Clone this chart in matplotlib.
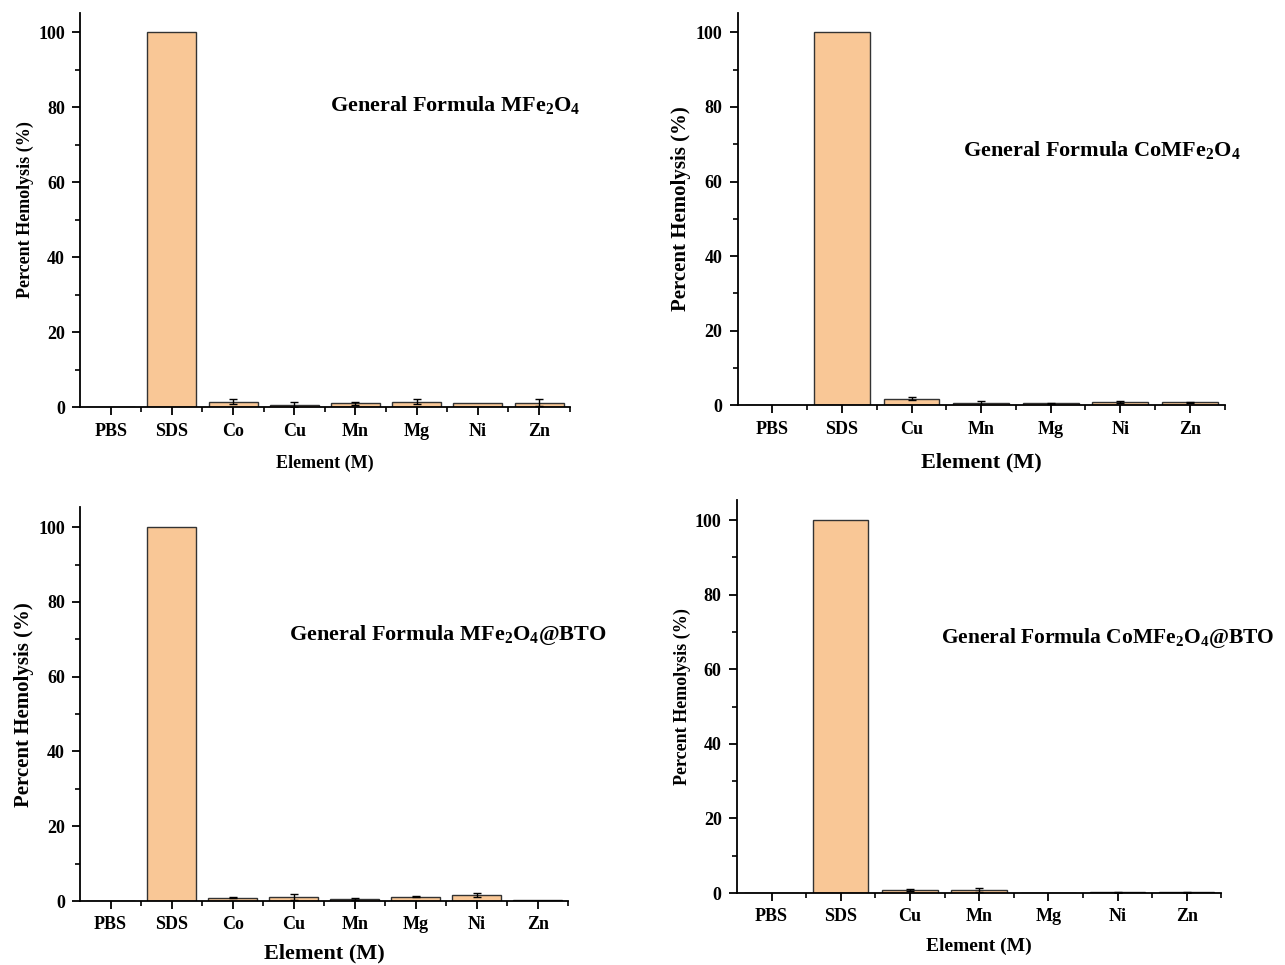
import matplotlib
matplotlib.use("Agg")
from matplotlib import pyplot as plt
from matplotlib.ticker import MultipleLocator, FixedLocator

plt.rcParams['font.family'] = 'Liberation Serif'
plt.rcParams['font.weight'] = 'bold'
plt.rcParams['mathtext.fontset'] = 'custom'
plt.rcParams['mathtext.rm'] = 'Liberation Serif:bold'
plt.rcParams['mathtext.it'] = 'Liberation Serif:bold'
plt.rcParams['mathtext.bf'] = 'Liberation Serif:bold'
plt.rcParams['mathtext.default'] = 'rm'

# panel 1: MFe2O4
labels_1 = ['PBS', 'SDS', 'Co', 'Cu', 'Mn', 'Mg', 'Ni', 'Zn']
values_1 = [0, 100, 1.5, 0.7, 1.0, 1.5, 1.0, 1.2]
errors_1 = [0, 0, 0.7, 0.6, 0.5, 0.6, 0.0, 1.0]

# panel 2: CoMFe2O4
labels_2 = ['PBS', 'SDS', 'Cu', 'Mn', 'Mg', 'Ni', 'Zn']
values_2 = [0, 100, 1.8, 0.5, 0.5, 0.8, 0.8]
errors_2 = [0, 0, 0.3, 0.6, 0.2, 0.3, 0.2]

# panel 3: MFe2O4@BTO
labels_3 = ['PBS', 'SDS', 'Co', 'Cu', 'Mn', 'Mg', 'Ni', 'Zn']
values_3 = [0, 100, 0.9, 1.2, 0.6, 1.2, 1.6, 0.2]
errors_3 = [0, 0, 0.2, 0.8, 0.2, 0.2, 0.6, 0.0]

# panel 4: CoMFe2O4@BTO
labels_4 = ['PBS', 'SDS', 'Cu', 'Mn', 'Mg', 'Ni', 'Zn']
values_4 = [0, 100, 0.8, 0.8, 0.0, 0.2, 0.2]
errors_4 = [0, 0, 0.2, 0.5, 0.0, 0.1, 0.2]

titles = [r'General Formula MFe$_2$O$_4$',
          r'General Formula CoMFe$_2$O$_4$',
          r'General Formula MFe$_2$O$_4$@BTO',
          r'General Formula CoMFe$_2$O$_4$@BTO']

BAR = '#F9C796'

fig = plt.figure(figsize=(12.85, 9.65), dpi=100)

panels = [
    # rect, labels, values, errors, text pos, ylabel size, xlabel size, xlabel pad
    ([0.0623, 0.578, 0.381, 0.409], labels_1, values_1, errors_1, (0.51, 0.767), 13, 13, 11),
    ([0.574, 0.580, 0.379, 0.407], labels_2, values_2, errors_2, (0.462, 0.649), 15, 16, 11),
    ([0.0623, 0.0663, 0.380, 0.408], labels_3, values_3, errors_3, (0.428, 0.675), 15, 16, 7),
    ([0.5735, 0.0746, 0.377, 0.407], labels_4, values_4, errors_4, (0.421, 0.649), 13, 14, 9),
]

for i, (rect, labels, vals, errs, tpos, ysz, xsz, xpad) in enumerate(panels):
    ax = fig.add_axes(rect)
    x = list(range(len(labels)))
    ax.bar(x, vals, width=0.8, color=BAR, edgecolor='#333333', linewidth=1.0, zorder=2)
    ex = [xi for xi, e in zip(x, errs) if e > 0]
    ey = [v for v, e in zip(vals, errs) if e > 0]
    ee = [e for e in errs if e > 0]
    ax.errorbar(ex, ey, yerr=ee, fmt='none', ecolor='black', elinewidth=1, capsize=3, zorder=3)
    ax.set_xlim(-0.5, len(labels) - 0.5)
    ax.set_ylim(0, 105.3)
    ax.spines['top'].set_visible(False)
    ax.spines['right'].set_visible(False)
    ax.spines['left'].set_linewidth(1.3)
    ax.spines['bottom'].set_linewidth(1.3)
    ax.set_xticks(x)
    ax.set_xticklabels(labels)
    ax.xaxis.set_minor_locator(FixedLocator([xi + 0.5 for xi in x]))
    ax.yaxis.set_major_locator(MultipleLocator(20))
    ax.yaxis.set_minor_locator(MultipleLocator(10))
    ax.tick_params(axis='both', which='major', direction='out', length=6, width=1.3,
                   labelsize=13, pad=5)
    ax.tick_params(axis='both', which='minor', direction='out', length=3.5, width=1.2)
    for t in ax.get_xticklabels() + ax.get_yticklabels():
        t.set_fontweight('bold')
    ax.set_ylabel('Percent Hemolysis (%)', fontsize=ysz, fontweight='bold', labelpad=3)
    ax.set_xlabel('Element (M)', fontsize=xsz, fontweight='bold', labelpad=xpad)
    ax.text(tpos[0], tpos[1], titles[i], transform=ax.transAxes, fontsize=16 if i < 3 else 15.5,
            fontweight='bold', ha='left', va='center')

fig.savefig('out.png', dpi=100)
